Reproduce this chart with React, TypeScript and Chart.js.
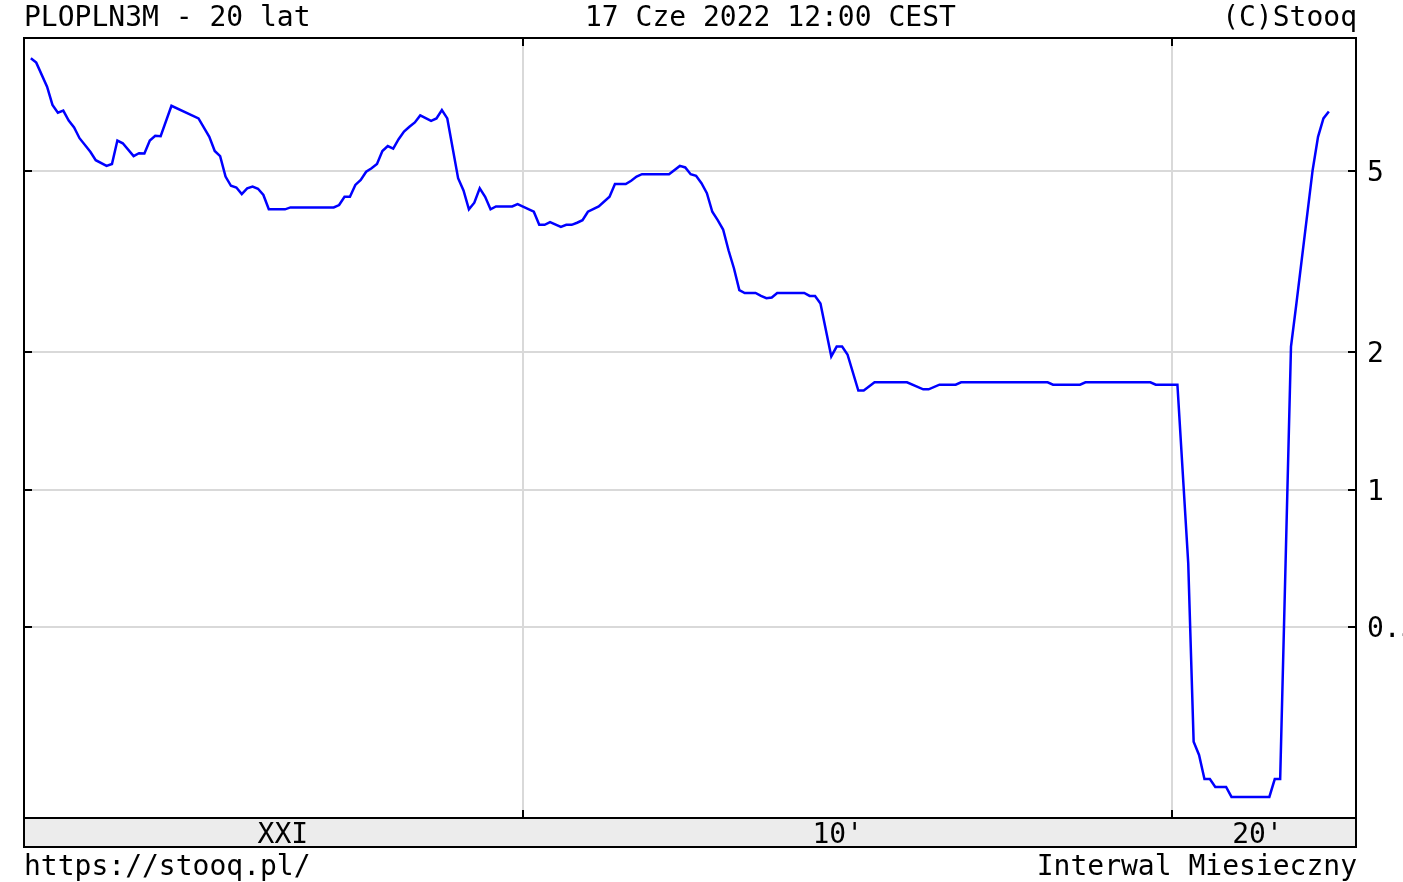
import React, { useEffect, useRef } from "react";
import { Chart, registerables } from "chart.js";

Chart.register(...registerables);

// ---- data ----
const months: string[] = [
  "2002-06", "2002-07", "2002-09", "2002-10", "2002-11", "2002-12",
  "2003-01", "2003-02", "2003-03", "2003-05", "2003-06", "2003-08", "2003-09", "2003-10", "2003-11",
  "2004-01", "2004-02", "2004-03", "2004-04", "2004-05", "2004-06", "2004-08",
  "2005-01", "2005-03", "2005-04", "2005-05", "2005-06", "2005-07", "2005-08", "2005-09", "2005-10", "2005-11", "2005-12",
  "2006-01", "2006-02", "2006-05", "2006-06",
  "2007-02", "2007-03", "2007-04", "2007-05", "2007-06", "2007-07", "2007-08", "2007-09", "2007-10", "2007-11", "2007-12",
  "2008-01", "2008-02", "2008-03", "2008-04", "2008-05", "2008-06", "2008-08", "2008-09", "2008-10", "2008-11",
  "2009-01", "2009-02", "2009-03", "2009-04", "2009-05", "2009-06", "2009-07", "2009-08", "2009-11", "2009-12",
  "2010-03", "2010-04", "2010-05", "2010-06", "2010-08", "2010-09", "2010-10", "2010-11", "2010-12",
  "2011-01", "2011-03", "2011-05", "2011-06", "2011-08", "2011-09", "2011-10", "2011-11",
  "2012-04", "2012-06", "2012-07", "2012-08", "2012-09", "2012-10", "2012-11", "2012-12",
  "2013-01", "2013-02", "2013-03", "2013-04", "2013-05", "2013-06", "2013-08", "2013-09", "2013-10", "2013-11", "2013-12",
  "2014-05", "2014-06", "2014-07", "2014-08", "2014-10", "2014-11", "2014-12",
  "2015-01", "2015-03", "2015-04", "2015-06", "2015-12",
  "2016-03", "2016-04", "2016-06", "2016-09", "2016-10",
  "2018-02", "2018-03", "2018-08", "2018-09",
  "2019-09", "2019-10",
  "2020-02", "2020-04", "2020-05", "2020-06", "2020-07", "2020-08", "2020-09", "2020-11", "2020-12",
  "2021-07", "2021-08", "2021-09", "2021-11", "2021-12",
  "2022-03", "2022-04", "2022-05", "2022-06",
];

const rates: number[] = [
  8.83, 8.64, 7.65, 6.98, 6.71, 6.78,
  6.45, 6.23, 5.9, 5.51, 5.28, 5.13, 5.18, 5.83, 5.75,
  5.39, 5.47, 5.46, 5.83, 5.97, 5.96, 6.95,
  6.52, 5.94, 5.53, 5.39, 4.86, 4.64, 4.6, 4.45, 4.58, 4.62, 4.57,
  4.43, 4.12, 4.12, 4.16,
  4.16, 4.21, 4.39, 4.39, 4.66, 4.78, 4.98, 5.07, 5.18, 5.53, 5.67,
  5.6, 5.87, 6.1, 6.25, 6.39, 6.62, 6.44, 6.52, 6.8, 6.52,
  4.82, 4.53, 4.12, 4.26, 4.58, 4.39, 4.12, 4.18, 4.18, 4.23,
  4.07, 3.81, 3.81, 3.86, 3.77, 3.81, 3.81, 3.85, 3.9,
  4.07, 4.18, 4.39, 4.68, 4.68, 4.76, 4.86, 4.92,
  4.92, 5.13, 5.09, 4.92, 4.88, 4.7, 4.47, 4.07,
  3.9, 3.72, 3.35, 3.06, 2.74, 2.7, 2.7, 2.66, 2.63, 2.64, 2.7,
  2.7, 2.66, 2.66, 2.56, 1.96, 2.06, 2.06,
  1.98, 1.65, 1.65, 1.72, 1.72,
  1.66, 1.66, 1.7, 1.7, 1.72,
  1.72, 1.7, 1.7, 1.72,
  1.72, 1.7,
  1.7, 0.69, 0.28, 0.262, 0.232, 0.232, 0.223, 0.223, 0.212,
  0.212, 0.232, 0.232, 2.06, 2.56,
  5.02, 5.94, 6.52, 6.75,
];

const yTicks: number[] = [0.5, 1, 2, 5];
const yTickLabels: string[] = ["0.5", "1", "2", "5"];
const decadeLines: string[] = ["2010-01", "2020-01"];
const decadeLabels: string[] = ["XXI", "10'", "20'"];
const decadeLabelAt: number[] = [75.6, 178.2, 255.8]; // month index (since 2000-01)

const title = "PLOPLN3M - 20 lat";
const dateText = "17 Cze 2022 12:00 CEST";
const copyright = "(C)Stooq";
const urlText = "https://stooq.pl/";
const intervalText = "Interwal Miesieczny";

function monthIndex(s: string): number {
  const [y, m] = s.split("-").map(Number);
  return (y - 2000) * 12 + (m - 1);
}

const FONT = '28px "DejaVu Sans Mono", monospace';

const overlayPlugin = {
  id: "stooqOverlay",
  afterDraw(chart: any) {
    const { ctx, chartArea: a, scales } = chart;
    const xs = scales.x;
    const ys = scales.y;
    const bandBottom = a.bottom + 29;
    ctx.save();
    // bottom band
    ctx.fillStyle = "#ececec";
    ctx.fillRect(a.left, a.bottom, a.right - a.left, bandBottom - a.bottom);
    // frame
    ctx.strokeStyle = "#000";
    ctx.lineWidth = 2;
    ctx.strokeRect(a.left, a.top, a.right - a.left, bandBottom - a.top);
    ctx.beginPath();
    ctx.moveTo(a.left, a.bottom);
    ctx.lineTo(a.right, a.bottom);
    ctx.stroke();
    // inner ticks
    ctx.beginPath();
    yTicks.forEach((v) => {
      const py = Math.round(ys.getPixelForValue(v));
      ctx.moveTo(a.left, py);
      ctx.lineTo(a.left + 8, py);
      ctx.moveTo(a.right - 8, py);
      ctx.lineTo(a.right, py);
    });
    decadeLines.forEach((d) => {
      const px = Math.round(xs.getPixelForValue(monthIndex(d)));
      ctx.moveTo(px, a.top);
      ctx.lineTo(px, a.top + 8);
      ctx.moveTo(px, a.bottom - 8);
      ctx.lineTo(px, a.bottom);
    });
    ctx.stroke();

    // texts
    ctx.fillStyle = "#000";
    ctx.font = FONT;
    ctx.textBaseline = "alphabetic";
    ctx.textAlign = "left";
    ctx.fillText(title, a.left, 26);
    ctx.fillText(dateText, 585, 26);
    ctx.textAlign = "right";
    ctx.fillText(copyright, a.right + 1, 26);
    ctx.textAlign = "left";
    ctx.fillText(urlText, a.left, 875);
    ctx.textAlign = "right";
    ctx.fillText(intervalText, a.right + 1, 875);

    // band labels
    ctx.textAlign = "center";
    decadeLabels.forEach((t, i) => {
      ctx.fillText(t, xs.getPixelForValue(decadeLabelAt[i]), a.bottom + 25);
    });

    // y labels
    ctx.textAlign = "left";
    yTicks.forEach((v, i) => {
      ctx.fillText(yTickLabels[i], a.right + 11, ys.getPixelForValue(v) + 10);
    });
    ctx.restore();
  },
};

export default function App() {
  const ref = useRef<HTMLCanvasElement | null>(null);
  useEffect(() => {
    if (!ref.current) return;
    const data = months.map((m, i) => ({ x: monthIndex(m), y: rates[i] }));
    const chart = new Chart(ref.current, {
      type: "line",
      data: {
        datasets: [
          {
            data,
            borderColor: "#0000ff",
            borderWidth: 2.5,
            pointRadius: 0,
            tension: 0,
            fill: false,
          },
        ],
      },
      options: {
        animation: false,
        responsive: false,
        maintainAspectRatio: false,
        devicePixelRatio: 1,
        layout: { padding: { left: 24, right: 47, top: 38, bottom: 64 } },
        plugins: { legend: { display: false }, tooltip: { enabled: false } },
        scales: {
          x: {
            type: "linear",
            min: 27.735,
            max: 274.02,
            border: { display: false },
            grid: { color: "#d9d9d9", lineWidth: 2, drawTicks: false },
            ticks: { display: false },
            afterBuildTicks: (s: any) => {
              s.ticks = decadeLines.map((d) => ({ value: monthIndex(d) }));
            },
          },
          y: {
            type: "logarithmic",
            min: 0.1906,
            max: 9.785,
            border: { display: false },
            grid: { color: "#d9d9d9", lineWidth: 2, drawTicks: false },
            ticks: { display: false },
            afterBuildTicks: (s: any) => {
              s.ticks = yTicks.map((v) => ({ value: v }));
            },
          },
        },
      },
      plugins: [overlayPlugin],
    });
    return () => chart.destroy();
  }, []);
  return (
    <div style={{ position: "absolute", left: 0, top: 0, width: 1403, height: 882, background: "#fff" }}>
      <canvas ref={ref} width={1403} height={882} style={{ display: "block" }} />
    </div>
  );
}
